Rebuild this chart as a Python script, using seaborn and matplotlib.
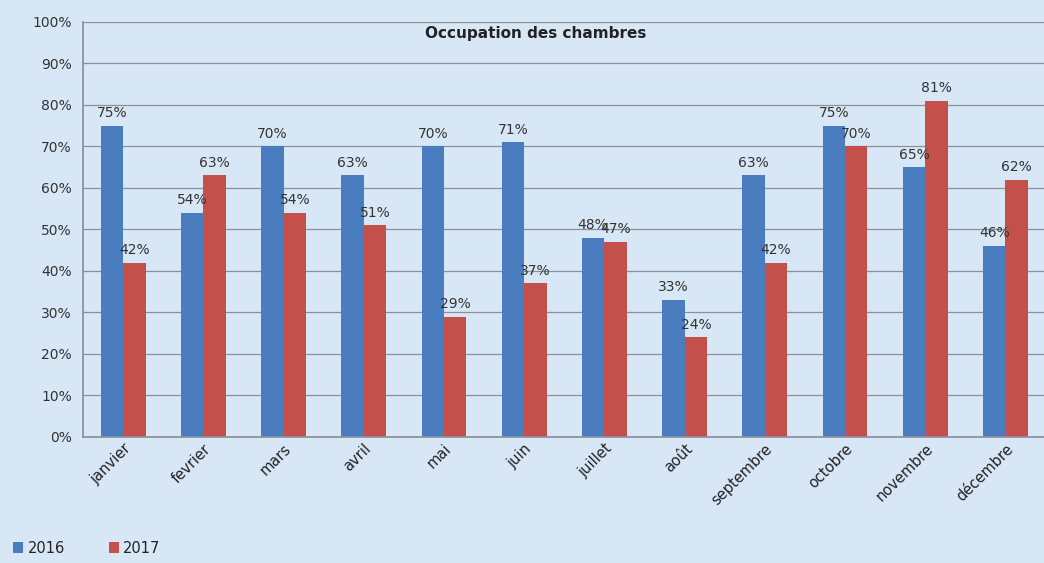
import matplotlib
matplotlib.use("Agg")
import matplotlib.pyplot as plt
import seaborn as sns
import pandas as pd
import numpy as np
from matplotlib.ticker import FixedLocator, PercentFormatter
from matplotlib.patches import Patch

months = ["janvier", "fevrier", "mars", "avril", "mai", "juin", "juillet",
          "août", "septembre", "octobre", "novembre", "décembre"]
occ_2016 = [75, 54, 70, 63, 70, 71, 48, 33, 63, 75, 65, 46]
occ_2017 = [42, 63, 54, 51, 29, 37, 47, 24, 42, 70, 81, 62]
years = ["2016", "2017"]
colors = ["#4a7dbf", "#c4504c"]

df = pd.DataFrame({
    "mois": months * 2,
    "année": [years[0]] * len(months) + [years[1]] * len(months),
    "taux": occ_2016 + occ_2017,
})

sns.set_theme(style="white")
plt.rcParams["font.family"] = ["DejaVu Sans"]

fig = plt.figure(figsize=(10.44, 5.63), dpi=100)
fig.patch.set_facecolor("#d8e7f5")
ax = fig.add_axes([0.0795, 0.224, 0.922, 0.737])
ax.set_facecolor("#d8e7f5")

sns.barplot(data=df, x="mois", y="taux", hue="année", order=months,
            hue_order=years, palette=colors, width=0.56, gap=0.0,
            saturation=1, ax=ax, legend=False, linewidth=0, edgecolor="none")

for cont in ax.containers:
    labels = [f"{int(round(v))}%" for v in cont.datavalues]
    ax.bar_label(cont, labels=labels, padding=4, fontsize=10, color="#333333")

ax.set_ylim(0, 100)
ax.set_xlim(-0.5, 11.5)
ax.yaxis.set_major_locator(FixedLocator(np.arange(0, 101, 10)))
ax.yaxis.set_major_formatter(PercentFormatter(decimals=0))
ax.grid(axis="y", color="#8c9099", linewidth=0.9)
ax.set_axisbelow(True)
for s in ["top", "right"]:
    ax.spines[s].set_visible(False)
ax.spines["left"].set_color("#8c9099")
ax.spines["bottom"].set_color("#8c9099")

ax.set_xlabel("")
ax.set_ylabel("")
ax.tick_params(axis="y", length=0, labelsize=10, labelcolor="#333333", pad=8)
ax.tick_params(axis="x", which="major", length=0, labelsize=10.5, labelcolor="#222222", pad=3)
ax.set_xticks(np.arange(-0.5, 12, 1), minor=True)
ax.tick_params(axis="x", which="minor", length=4, color="#8c9099", direction="out")
plt.setp(ax.get_xticklabels(), rotation=45, ha="right", rotation_mode="anchor")

ax.text(0.47, 0.99, "Occupation des chambres", transform=ax.transAxes,
        ha="center", va="top", fontsize=11, fontweight="bold", color="#222222")

handles = [Patch(facecolor=c, edgecolor="none") for c in colors]
fig.legend(handles, years, loc="lower left", bbox_to_anchor=(0.0, -0.01), ncol=2,
           frameon=False, fontsize=10.5, handlelength=0.7, handleheight=0.7,
           handletextpad=0.3, columnspacing=3.0, labelcolor="#222222")

fig.savefig("out.png", dpi=100, facecolor=fig.get_facecolor())
